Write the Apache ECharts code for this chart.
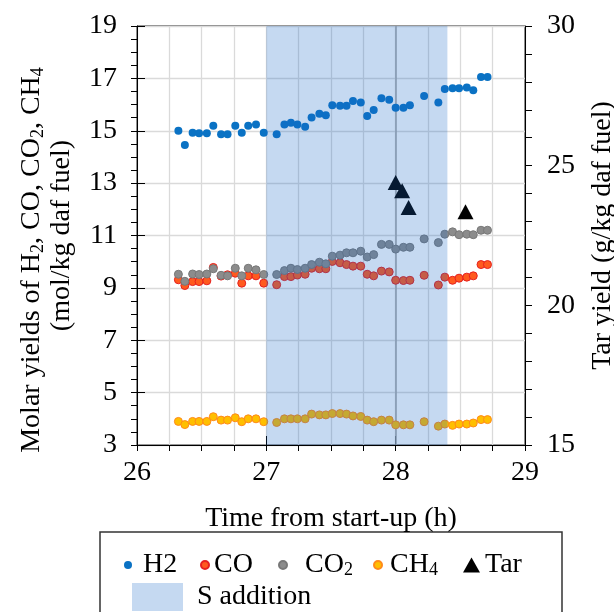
<!DOCTYPE html>
<html><head><meta charset="utf-8">
<script src="https://cdn.jsdelivr.net/npm/echarts@6/dist/echarts.min.js"></script>
<style>html,body{margin:0;padding:0;background:#fff}#c{width:614px;height:612px}</style>
</head><body><div id="c"></div>
<script>
// ---- data ----
const time = [26.32,26.37,26.43,26.48,26.54,26.59,26.65,26.70,26.76,26.81,26.86,26.92,26.98,
  27.08,27.14,27.19,27.24,27.30,27.35,27.41,27.46,27.51,27.57,27.62,27.67,27.73,27.78,27.83,27.89,27.95,
  28.00,28.06,28.11,28.22,28.33,28.38,28.44,28.49,28.55,28.60,28.66,28.71];
const h2 = [15.00,14.46,14.92,14.90,14.90,15.19,14.87,14.87,15.19,14.92,15.19,15.24,14.92,
  14.87,15.24,15.31,15.24,15.15,15.51,15.65,15.59,15.97,15.95,15.95,16.14,16.08,15.56,15.79,16.24,16.18,
  15.88,15.88,15.97,16.33,16.08,16.59,16.62,16.62,16.65,16.55,17.05,17.05];
const co = [9.31,9.09,9.24,9.24,9.27,9.78,9.45,9.50,9.56,9.18,9.46,9.46,9.18,
  9.12,9.43,9.43,9.49,9.52,9.75,9.73,9.73,10.01,9.96,9.89,9.83,9.83,9.52,9.46,9.64,9.61,
  9.29,9.28,9.29,9.48,9.11,9.41,9.29,9.37,9.41,9.46,9.89,9.89];
const co2 = [9.52,9.25,9.53,9.51,9.53,9.73,9.48,9.46,9.75,9.46,9.75,9.69,9.51,
  9.51,9.66,9.75,9.70,9.75,9.89,9.98,9.92,10.21,10.25,10.34,10.34,10.40,10.18,10.27,10.66,10.66,
  10.48,10.55,10.55,10.87,10.73,11.05,11.14,11.03,11.05,11.03,11.20,11.20];
const ch4 = [3.90,3.78,3.90,3.90,3.90,4.08,3.95,3.95,4.04,3.89,4.00,4.00,3.89,
  3.86,4.00,4.00,4.00,4.00,4.18,4.15,4.15,4.20,4.20,4.18,4.11,4.09,3.95,3.89,3.95,3.95,
  3.77,3.77,3.77,3.89,3.72,3.80,3.75,3.80,3.80,3.84,3.97,3.97];
const tarTime = [28.00,28.05,28.10,28.54];
const tar = [24.4,24.1,23.5,23.35];
const sAddition = [27.0, 28.4];
const leftTicks = {min:3, max:19, interval:2};
const rightTicks = {min:15, max:30, interval:5};
const xTicks = {min:26, max:29, interval:0.25};

// ---- chart ----
const FONT = 'Liberation Serif';
const TXT = {fontFamily: FONT, fontSize: 28, color: '#000'};
const RICH = {sub: {fontFamily: FONT, fontSize: 18, color: '#000', verticalAlign: 'bottom', lineHeight: 14}};
const zip = (xs, ys) => xs.map((x, i) => [x, ys[i]]);
const fmtName = n => ({CO2: 'CO{sub|2}', CH4: 'CH{sub|4}'}[n] || n);
const NB = '\u00a0';
function leg(name, left, top, w, h, pad, extra) {
  return Object.assign({
    data: [name], left: left, top: top, padding: 0, itemWidth: w, itemHeight: h,
    selectedMode: false, formatter: fmtName,
    textStyle: Object.assign({}, TXT, {rich: RICH, padding: [0, 0, 0, pad]})
  }, extra || {});
}
const chart = echarts.init(document.getElementById('c'));
chart.setOption({
  animation: false,
  backgroundColor: '#fff',
  grid: {left: 137, right: 89, top: 26, bottom: 167, show: true, borderColor: '#000', borderWidth: 1,
         containLabel: false, outerBoundsMode: 'none'},
  xAxis: [{
    type: 'value', min: xTicks.min, max: xTicks.max, interval: xTicks.interval,
    axisLine: {onZero: false, lineStyle: {color: '#000', width: 1}},
    axisTick: {length: 6, lineStyle: {color: '#000'}},
    axisLabel: Object.assign({}, TXT, {margin: 14, formatter: v => Number.isInteger(v) ? String(v) : ''}),
    splitLine: {show: true, lineStyle: {color: '#dadada', width: 1.3}},
    name: 'Time from start-up (h)', nameLocation: 'middle', nameGap: 60, nameTextStyle: TXT
  }, {
    type: 'value', min: xTicks.min, max: xTicks.max, interval: 1, position: 'bottom',
    axisLine: {show: false, onZero: false}, axisTick: {inside: true, length: 9, lineStyle: {color: '#000'}},
    axisLabel: {show: false}, splitLine: {show: false}
  }],
  yAxis: [{
    type: 'value', min: leftTicks.min, max: leftTicks.max, interval: leftTicks.interval, position: 'left',
    axisLine: {show: true, onZero: false, lineStyle: {color: '#000', width: 1}},
    axisTick: {show: true, length: 6, lineStyle: {color: '#000'}},
    minorTick: {show: true, splitNumber: 4, length: 6, lineStyle: {color: '#000'}},
    axisLabel: Object.assign({}, TXT, {margin: 20}),
    splitLine: {show: true, lineStyle: {color: '#dadada', width: 1.3}},
    name: 'Molar yields of H{sub|2}, CO, CO{sub|2}, CH{sub|4}' + NB.repeat(7) + '\n(mol/kg daf fuel)',
    nameLocation: 'middle', nameGap: 60, nameRotate: 90,
    nameTextStyle: Object.assign({}, TXT, {lineHeight: 30, rich: RICH})
  }, {
    type: 'value', min: rightTicks.min, max: rightTicks.max, interval: rightTicks.interval, position: 'right',
    axisLine: {show: true, onZero: false, lineStyle: {color: '#000', width: 1}},
    axisTick: {show: true, length: 7, lineStyle: {color: '#000'}},
    minorTick: {show: true, splitNumber: 5, length: 7, lineStyle: {color: '#000'}},
    axisLabel: Object.assign({}, TXT, {margin: 22}),
    splitLine: {show: false},
    name: 'Tar yield (g/kg daf fuel)', nameLocation: 'middle', nameGap: 64, nameRotate: 90,
    nameTextStyle: TXT
  }, {
    type: 'value', min: leftTicks.min, max: leftTicks.max, interval: leftTicks.interval, position: 'left',
    axisLine: {show: false, onZero: false}, axisTick: {show: true, inside: true, length: 8, lineStyle: {color: '#000'}},
    axisLabel: {show: false}, splitLine: {show: false}
  }],
  legend: [
    leg('H2', 124, 551, 8, 8, 6),
    leg('CO', 200, 551, 8, 8, 0),
    leg('CO2', 278, 551, 8, 8, 13),
    leg('CH4', 373, 551, 8, 8, 3),
    leg('Tar', 463, 551, 17, 15, 0),
    {data: [{name: 'S addition', icon: 'rect', itemStyle: {color: '#c5d9f1'}}], left: 132, top: 583, padding: 0,
     itemWidth: 51, itemHeight: 28, selectedMode: false, textStyle: Object.assign({}, TXT, {padding: [0, 0, 0, 9]})}
  ],
  graphic: [{type: 'rect', shape: {x: 100, y: 532, width: 462, height: 100}, style: {fill: 'none', stroke: '#333', lineWidth: 1.5}, silent: true}],
  series: [
    {name: 'grid28', type: 'line', data: [], z: 1, silent: true,
     markLine: {z: 1, silent: true, symbol: 'none', label: {show: false}, lineStyle: {color: '#a6a6a6', width: 1.5, type: 'solid'}, data: [{xAxis: 28}]}},
    {name: 'H2', type: 'scatter', data: zip(time, h2), symbolSize: 8, z: 2, itemStyle: {color: '#0a72c4', opacity: 1}},
    {name: 'CO', type: 'scatter', data: zip(time, co), symbolSize: 8, z: 2, itemStyle: {color: '#ff5a1e', borderColor: '#e62020', borderWidth: 1, opacity: 1}},
    {name: 'CO2', type: 'scatter', data: zip(time, co2), symbolSize: 8, z: 2, itemStyle: {color: '#8c8c8c', borderColor: '#787878', borderWidth: 1, opacity: 1}},
    {name: 'CH4', type: 'scatter', data: zip(time, ch4), symbolSize: 8, z: 2, itemStyle: {color: '#ffbf00', borderColor: '#ff8a1a', borderWidth: 1, opacity: 1}},
    {name: 'Tar', type: 'scatter', yAxisIndex: 1, data: zip(tarTime, tar), symbol: 'triangle', symbolSize: [16, 15], z: 2, itemStyle: {color: '#000', opacity: 1}},
    {name: 'S addition', type: 'line', data: [], z: 10, silent: true,
     markArea: {z: 20, silent: true, itemStyle: {color: 'rgba(23,103,199,0.25)'}, data: [[{xAxis: sAddition[0]}, {xAxis: sAddition[1]}]]}}
  ]
});
</script></body></html>
